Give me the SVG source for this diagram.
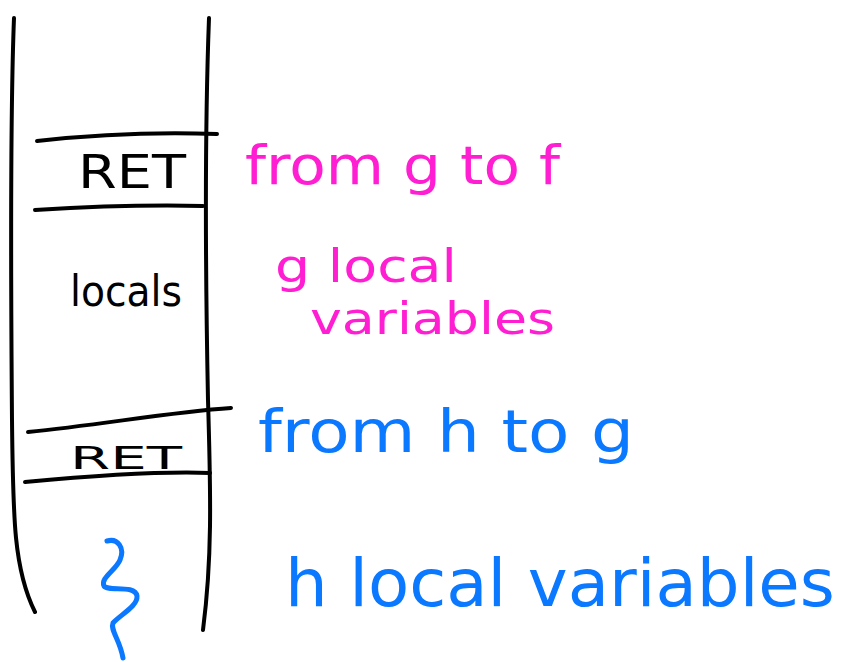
<svg xmlns="http://www.w3.org/2000/svg" width="852" height="662" viewBox="0 0 852 662">
<style>
.ink{fill:none;stroke-linecap:round;stroke-linejoin:round}
.k{stroke:#000;stroke-width:4}
.b{stroke:#0a78ff;stroke-width:5}
.t{font-family:"DejaVu Sans","Liberation Sans",sans-serif}
.tk{fill:#000}
.tm{fill:#ff1ed2}
.tb{fill:#0a78ff}
</style>
<rect width="852" height="662" fill="#fff"/>
<g id="connectors">
<path class="ink k" d="M14,18 C10,120 11,300 12,420 C13,520 14,570 35,612"/>
<path class="ink k" d="M209,18 C204,150 206,300 208,400 C211,500 212,560 203,630"/>
<path class="ink k" d="M37,141 C100,134 160,132 217,134"/>
<path class="ink k" d="M35,210 C100,206 160,205 203,206"/>
<path class="ink k" d="M28,432 C100,425 170,412 231,408"/>
<path class="ink k" d="M25,482 C90,476 160,471 210,473"/>
</g>
<g id="ret1">
<text class="t tk" x="78" y="188" font-size="46" textLength="108" lengthAdjust="spacingAndGlyphs">RET</text>
</g>
<g id="locals">
<text class="t tk" x="70" y="306" font-size="42" textLength="112" lengthAdjust="spacingAndGlyphs">locals</text>
</g>
<g id="ret2">
<text class="t tk" x="70" y="469" font-size="32" textLength="112" lengthAdjust="spacingAndGlyphs">RET</text>
</g>
<g id="brace">
<path class="ink b" d="M107,541 C118,538 125,548 120,560 C116,570 100,578 104,586 C108,592 135,584 137,596 C138,606 120,615 113,623 C110,630 120,640 123,658"/>
</g>
<g id="label-ret1">
<text class="t tm" x="245" y="184" font-size="54" textLength="315" lengthAdjust="spacingAndGlyphs">from g to f</text>
</g>
<g id="label-locals">
<text class="t tm" x="275" y="282" font-size="46" textLength="182" lengthAdjust="spacingAndGlyphs">g local</text>
<text class="t tm" x="310" y="334" font-size="44" textLength="245" lengthAdjust="spacingAndGlyphs">variables</text>
</g>
<g id="label-ret2">
<text class="t tb" x="258" y="452" font-size="58" textLength="376" lengthAdjust="spacingAndGlyphs">from h to g</text>
</g>
<g id="label-h">
<text class="t tb" x="285" y="606" font-size="66" textLength="550" lengthAdjust="spacingAndGlyphs">h local variables</text>
</g>
</svg>
